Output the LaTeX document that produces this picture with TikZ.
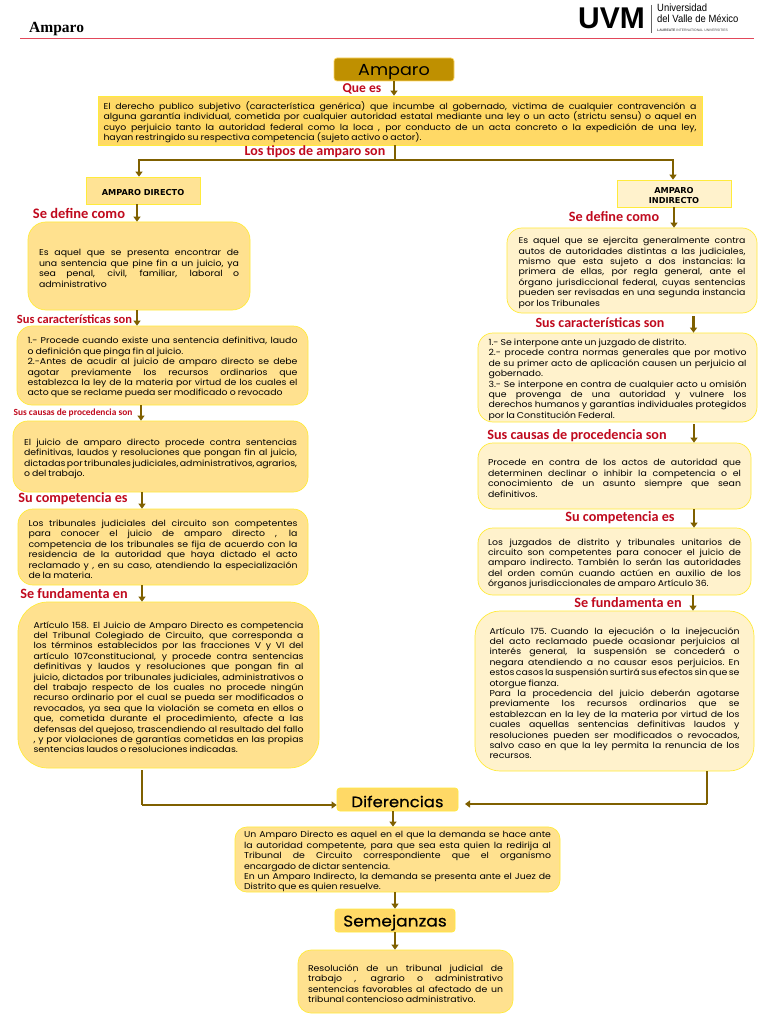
\documentclass[tikz,border=0pt]{standalone}
\usepackage{fontspec}
\usepackage{graphicx}
\setmainfont[FakeStretch=1.1]{Poppins}
\newfontfamily\popb[FakeStretch=1.1,FakeBold=.4]{Poppins}
\newfontfamily\labf{Carlito}
\newfontfamily\hdrf{Liberation Serif}
\newfontfamily\helf{Liberation Sans}
\newfontfamily\djvf{DejaVu Sans}
\usetikzlibrary{arrows.meta}
\definecolor{brn}{HTML}{7F6000}
\definecolor{gld}{HTML}{BF9000}
\definecolor{ymain}{HTML}{FFD966}
\definecolor{ymid}{HTML}{FFE18F}
\definecolor{ypale}{HTML}{FFF2CC}
\definecolor{ybord}{HTML}{FFEB3B}
\definecolor{lred}{HTML}{C00A1E}
\definecolor{hline}{HTML}{E2485A}
\newcommand\jj[1]{\hbox to \hsize{\spaceskip=.24em plus 1fil minus .15em\relax #1}}
\newcommand\jn[1]{\hbox to \hsize{\spaceskip=.24em\relax #1\hfil}}
\newcommand\rbx[8][]{\node[boxbase,#1,text width=#7pt,minimum width={(#5-#3)*1pt},minimum height={(#6-#4)*1pt}] (#2) at ({(#3+#5)/2},{(#4+#6)/2}) {\vskip.5pt #8};}
\tikzset{
 boxbase/.style={draw=ybord,line width=.7pt,inner sep=0pt,align=left,font=\fontsize{8.5}{10.4}\selectfont,text=black},
 rl/.style={rounded corners=#1,fill=ymid},
 rp/.style={rounded corners=#1,fill=ypale},
 arr/.style={draw=brn,line width=2.1pt,-{Triangle[length=5pt,width=7pt]}},
 ln/.style={draw=brn,line width=2.1pt},
 lbl/.style={text=lred,inner sep=0pt,font=\labf\bfseries\fontsize{#1}{#1}\selectfont},
 head/.style={font=\popb\fontsize{#1}{#1}\selectfont,align=center,text=black},
 tag/.style={align=center,font=\djvf\bfseries\fontsize{8.2}{10}\selectfont}
}
\begin{document}
\begin{tikzpicture}[x=1pt,y=-1pt]
\useasboundingbox (0,0) rectangle (768,1024);
\fill[white] (0,0) rectangle (768,1024);
% header
\node[inner sep=0,anchor=west,font=\hdrf\bfseries\fontsize{15.5}{15.5}\selectfont] (title) at (29,29.5) {Amparo};
\draw[hline,line width=1.2pt] (20,38.5) -- (754,38.5);
\node[inner sep=0,anchor=west,font=\helf\bfseries\fontsize{30}{30}\selectfont] (uvm) at (578,18) {UVM};
\draw[black!60,line width=.6pt] (651,5) -- (651,33);
\node[inner sep=0,anchor=west,font=\helf\fontsize{10.5}{10.5}\selectfont] (uni) at (657,7.5) {\scalebox{.9}[1]{Universidad}};
\node[inner sep=0,anchor=west,font=\helf\fontsize{10.5}{10.5}\selectfont] (del) at (657,18.5) {\scalebox{.9}[1]{del Valle de México}};
\node[inner sep=0,anchor=west,font=\helf\fontsize{3.4}{3.4}\selectfont,text=black!70] (lau) at (657,30.5) {\textbf{LAUREATE} INTERNATIONAL UNIVERSITIES};
% main
\rbx[fill=gld,draw=ymain,rounded corners=3pt,head=16]{amp}{334}{58}{454}{81}{100}{\rmfamily Amparo}
\rbx[fill=ymain]{def}{98}{96}{702}{145}{593}{%
\jj{El derecho publico subjetivo (característica genérica) que incumbe al gobernado, victima de cualquier contravención a}
\jj{alguna garantía individual, cometida por cualquier autoridad estatal mediante una ley o un acto (strictu sensu) o aquel en}
\jj{cuyo perjuicio tanto la autoridad federal como la loca , por conducto de un acta concreto o la expedición de una ley,}
\jn{hayan restringido su respectiva competencia (sujeto activo o actor).}}
\rbx[fill=ymid!90!ypale,tag]{dir}{86}{177}{200}{204}{110}{AMPARO DIRECTO}
\rbx[fill=ypale,tag]{ind}{617}{180}{731}{207}{110}{AMPARO\\INDIRECTO}
% left column
\rbx[rl=18pt]{l1}{28}{222}{250}{310}{200}{%
\jj{Es aquel que se presenta encontrar de}
\jj{una sentencia que pine fin a un juicio, ya}
\jj{sea penal, civil, familiar, laboral o}
\jn{administrativo}}
\rbx[rl=15pt]{l2}{17}{326}{308}{405}{270}{%
\jj{1.- Procede cuando existe una sentencia definitiva, laudo}
\jn{o definición que pinga fin al juicio.}
\jj{2.-Antes de acudir al juicio de amparo directo se debe}
\jj{agotar previamente los recursos ordinarios que}
\jj{establezca la ley de la materia por virtud de los cuales el}
\jn{acto que se reclame pueda ser modificado o revocado}}
\rbx[rl=15pt]{l3}{13}{421}{308}{492}{273}{%
\jj{El juicio de amparo directo procede contra sentencias}
\jj{definitivas, laudos y resoluciones que pongan fin al juicio,}
\jj{dictadas por tribunales judiciales, administrativos, agrarios,}
\jn{o del trabajo.}}
\rbx[rl=15pt]{l4}{18}{509}{308}{585}{269}{%
\jj{Los tribunales judiciales del circuito son competentes}
\jj{para conocer el juicio de amparo directo , la}
\jj{competencia de los tribunales se fija de acuerdo con la}
\jj{residencia de la autoridad que haya dictado el acto}
\jj{reclamado y , en su caso, atendiendo la especialización}
\jn{de la materia.}}
\rbx[rl=30pt]{l5}{18}{602}{319}{768}{270}{%
\jj{Artículo 158. El Juicio de Amparo Directo es competencia}
\jj{del Tribunal Colegiado de Circuito, que corresponda a}
\jj{los términos establecidos por las fracciones V y VI del}
\jj{artículo 107constitucional, y procede contra sentencias}
\jj{definitivas y laudos y resoluciones que pongan fin al}
\jj{juicio, dictados por tribunales judiciales, administrativos o}
\jj{del trabajo respecto de los cuales no procede ningún}
\jj{recurso ordinario por el cual se pueda ser modificados o}
\jj{revocados, ya sea que la violación se cometa en ellos o}
\jj{que, cometida durante el procedimiento, afecte a las}
\jj{defensas del quejoso, trascendiendo al resultado del fallo}
\jj{, y por violaciones de garantías cometidas en las propias}
\jn{sentencias laudos o resoluciones indicadas.}}
% right column
\rbx[rp=15pt]{r1}{507}{228}{757}{313}{227}{%
\jj{Es aquel que se ejercita generalmente contra}
\jj{autos de autoridades distintas a las judiciales,}
\jj{mismo que esta sujeto a dos instancias: la}
\jj{primera de ellas, por regla general, ante el}
\jj{órgano jurisdiccional federal, cuyas sentencias}
\jj{pueden ser revisadas en una segunda instancia}
\jn{por los Tribunales}}
\rbx[rp=15pt]{r2}{478}{333}{757}{422}{258}{%
\jn{1.- Se interpone ante un juzgado de distrito.}
\jj{2.- procede contra normas generales que por motivo}
\jj{de su primer acto de aplicación causen un perjuicio al}
\jn{gobernado.}
\jj{3.- Se interpone en contra de cualquier acto u omisión}
\jj{que provenga de una autoridad y vulnere los}
\jj{derechos humanos y garantías individuales protegidos}
\jn{por la Constitución Federal.}}
\rbx[rp=15pt]{r3}{478}{443}{751}{509}{253}{%
\jj{Procede en contra de los actos de autoridad que}
\jj{determinen declinar o inhibir la competencia o el}
\jj{conocimiento de un asunto siempre que sean}
\jn{definitivos.}}
\rbx[rp=15pt]{r4}{478}{528}{751}{595}{253}{%
\jj{Los juzgados de distrito y tribunales unitarios de}
\jj{circuito son competentes para conocer el juicio de}
\jj{amparo indirecto. También lo serán las autoridades}
\jj{del orden común cuando actúen en auxilio de los}
\jn{órganos jurisdiccionales de amparo Artículo 36.}}
\rbx[rp=25pt]{r5}{475}{611}{754}{771}{250}{%
\jj{Artículo 175. Cuando la ejecución o la inejecución}
\jj{del acto reclamado puede ocasionar perjuicios al}
\jj{interés general, la suspensión se concederá o}
\jj{negara atendiendo a no causar esos perjuicios. En}
\jj{estos casos la suspensión surtirá sus efectos sin que se}
\jn{otorgue fianza.}
\jj{Para la procedencia del juicio deberán agotarse}
\jj{previamente los recursos ordinarios que se}
\jj{establezcan en la ley de la materia por virtud de los}
\jj{cuales aquellas sentencias definitivas laudos y}
\jj{resoluciones pueden ser modificados o revocados,}
\jj{salvo caso en que la ley permita la renuncia de los}
\jn{recursos.}}
% bottom
\rbx[fill=ymain,rounded corners=3pt,head=15]{dif}{337}{788}{458}{811}{110}{Diferencias}
\rbx[rl=12pt]{d1}{235}{828}{560}{891}{307}{%
\jj{Un Amparo Directo es aquel en el que la demanda se hace ante}
\jj{la autoridad competente, para que sea esta quien la redirija al}
\jj{Tribunal de Circuito correspondiente que el organismo}
\jn{encargado de dictar sentencia.}
\jj{En un Amparo Indirecto, la demanda se presenta ante el Juez de}
\jn{Distrito que es quien resuelve.}}
\rbx[fill=ymain,rounded corners=3pt,head=15.5]{sem}{335}{909}{455}{932}{115}{Semejanzas}
\rbx[rl=13pt]{s1}{298}{950}{513}{1013}{195}{%
\jj{Resolución de un tribunal judicial de}
\jj{trabajo , agrario o administrativo}
\jj{sentencias favorables al afectado de un}
\jn{tribunal contencioso administrativo.}}
% labels
\node[lbl=13.5] (t1) at (362,89) {Que es};
\node[lbl=14] (t2) at (315,152) {Los tipos de amparo son};
\node[lbl=14.5] (t3) at (79,213) {Se define como};
\node[lbl=12.5] (t4) at (74.5,319) {Sus características son};
\node[lbl=9.4] (t5) at (73,413) {Sus causas de procedencia son};
\node[lbl=14.2] (t6) at (73,499) {Su competencia es};
\node[lbl=14.2] (t7) at (74,594) {Se fundamenta en};
\node[lbl=14.2] (t8) at (614,217) {Se define como};
\node[lbl=14] (t9) at (600,323) {Sus características son};
\node[lbl=14.2] (t10) at (577,436) {Sus causas de procedencia son};
\node[lbl=14.2] (t11) at (620,518) {Su competencia es};
\node[lbl=14.2] (t12) at (628,603) {Se fundamenta en};
% connectors
\draw[arr] (amp.south -| 394,0) -- (def.north -| 394,0);
\coordinate (jn) at (395,160);
\draw[ln] (def.south -| jn) -- (jn);
\draw[arr] (jn) -| (dir.north -| 139,0);
\draw[arr] (jn) -| (ind.north -| 673,0);
\draw[arr] (dir.south -| 137,0) -- (l1.north -| 137,0);
\draw[arr] (l1.south -| 137,0) -- (l2.north -| 137,0);
\draw[arr] (l2.south -| 141,0) -- (l3.north -| 141,0);
\draw[arr] (l3.south -| 142,0) -- (l4.north -| 142,0);
\draw[arr] (l4.south -| 142,0) -- (l5.north -| 142,0);
\draw[arr] (ind.south -| 674,0) -- (r1.north -| 674,0);
\draw[arr] (r1.south -| 693.5,0) ++(0,3) -- (r2.north -| 693.5,0);
\draw[arr] (r2.south -| 694,0) ++(0,2) -- (r3.north -| 694,0);
\draw[arr] (r3.south -| 694,0) -- (r4.north -| 694,0);
\draw[arr] (r4.south -| 693,0) -- (r5.north -| 693,0);
\coordinate (lc) at (142,805);
\coordinate (rc) at (707,804);
\draw[ln] (l5.south -| lc) ++(0,2) -- (lc);
\draw[arr] (lc) -- (dif.west |- lc);
\draw[ln] (r5.south -| rc) -- (rc);
\draw[arr] (rc) -- (465,804);
\draw[arr] (dif.south -| 393,0) -- (d1.north -| 393,0);
\draw[arr] (d1.south -| 395,0) -- (sem.north -| 395,0);
\draw[arr] (sem.south -| 395,0) -- (s1.north -| 395,0);
\end{tikzpicture}
\end{document}
